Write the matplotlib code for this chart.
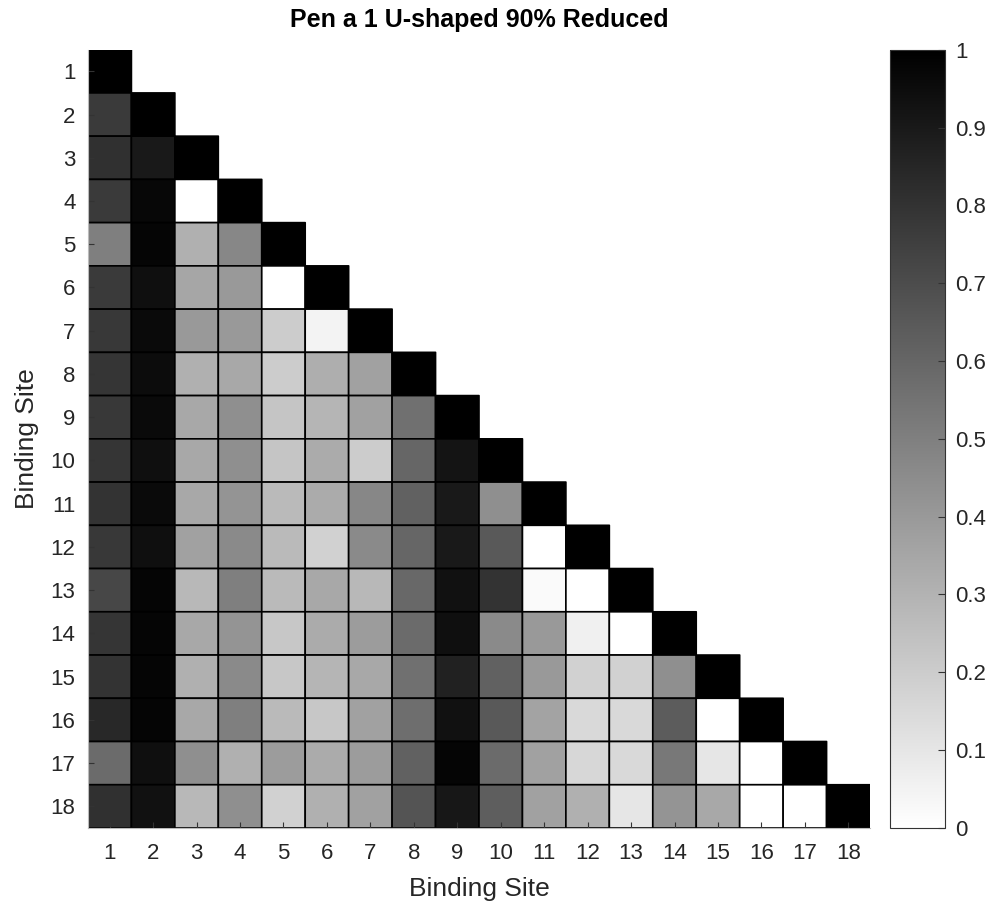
import numpy as np
import matplotlib
matplotlib.use('Agg')
import matplotlib.pyplot as plt

plt.rcParams['font.family'] = ['Liberation Sans', 'DejaVu Sans']

sites = list(range(1, 19))

# lower triangle, row by row (row i has i values, last one is the diagonal)
rows = [
    [1.0],
    [0.77, 1.0],
    [0.81, 0.90, 1.0],
    [0.77, 0.97, 0.00, 1.0],
    [0.50, 0.98, 0.31, 0.47, 1.0],
    [0.77, 0.94, 0.35, 0.40, 0.00, 1.0],
    [0.78, 0.96, 0.40, 0.40, 0.20, 0.05, 1.0],
    [0.79, 0.95, 0.31, 0.34, 0.20, 0.32, 0.37, 1.0],
    [0.78, 0.96, 0.34, 0.44, 0.23, 0.29, 0.37, 0.56, 1.0],
    [0.79, 0.94, 0.34, 0.44, 0.23, 0.33, 0.20, 0.60, 0.92, 1.0],
    [0.80, 0.96, 0.34, 0.42, 0.27, 0.33, 0.47, 0.62, 0.90, 0.44, 1.0],
    [0.78, 0.94, 0.37, 0.46, 0.27, 0.18, 0.46, 0.60, 0.90, 0.65, 0.00, 1.0],
    [0.72, 0.98, 0.28, 0.50, 0.27, 0.34, 0.28, 0.59, 0.93, 0.80, 0.02, 0.00, 1.0],
    [0.79, 0.98, 0.34, 0.42, 0.22, 0.33, 0.39, 0.58, 0.94, 0.46, 0.40, 0.06, 0.00, 1.0],
    [0.80, 0.98, 0.31, 0.46, 0.22, 0.29, 0.34, 0.56, 0.87, 0.62, 0.40, 0.18, 0.18, 0.44, 1.0],
    [0.84, 0.98, 0.34, 0.50, 0.27, 0.22, 0.37, 0.57, 0.93, 0.65, 0.36, 0.15, 0.15, 0.64, 0.00, 1.0],
    [0.58, 0.94, 0.44, 0.31, 0.39, 0.33, 0.39, 0.62, 0.98, 0.58, 0.37, 0.16, 0.15, 0.53, 0.10, 0.00, 1.0],
    [0.81, 0.93, 0.28, 0.44, 0.18, 0.31, 0.37, 0.67, 0.91, 0.63, 0.37, 0.31, 0.10, 0.42, 0.34, 0.00, 0.00, 1.0],
]

n = len(sites)
mat = np.full((n, n), np.nan)
for i, r in enumerate(rows):
    mat[i, :len(r)] = r
mat = np.ma.masked_invalid(mat)

fig = plt.figure(figsize=(9.95, 9.05), dpi=100)
ax = fig.add_axes([0.0884, 0.0851, 0.786, 0.860])
cax = fig.add_axes([0.8945, 0.0851, 0.0553, 0.860])

edges = np.arange(0.5, n + 1, 1)
# pcolor drops the masked (upper) cells entirely, so no edges there
mesh = ax.pcolor(edges, edges, mat, cmap='gray_r', vmin=0, vmax=1,
                 edgecolor='black', linewidth=1.2)
ax.set_xlim(0.5, n + 0.5)
ax.set_ylim(n + 0.5, 0.5)
ax.set_xticks(sites)
ax.set_yticks(sites)
ax.tick_params(direction='in', length=4, labelsize=16, color='#333333')
ax.tick_params(axis='x', pad=11)
ax.tick_params(axis='y', pad=9)
ax.spines['top'].set_visible(False)
ax.spines['right'].set_visible(False)
for s in ('left', 'bottom'):
    ax.spines[s].set_color('#bbbbbb')
ax.set_xlabel('Binding Site', fontsize=19, color='#262626', labelpad=9)
ax.set_ylabel('Binding Site', fontsize=19, color='#262626', labelpad=8)
ax.set_title('Pen a 1 U-shaped 90% Reduced', fontsize=18, fontweight='bold', pad=16)
for lab in ax.get_xticklabels() + ax.get_yticklabels():
    lab.set_color('#262626')

cb = fig.colorbar(mesh, cax=cax)
cb.set_ticks(np.round(np.arange(0, 1.01, 0.1), 1))
cb.set_ticklabels(['0', '0.1', '0.2', '0.3', '0.4', '0.5', '0.6', '0.7', '0.8', '0.9', '1'])
cb.ax.tick_params(direction='in', length=5, labelsize=16, color='#333333',
                  labelcolor='#262626', pad=7)
cb.outline.set_edgecolor('#333333')

fig.savefig('out.png', dpi=100)
